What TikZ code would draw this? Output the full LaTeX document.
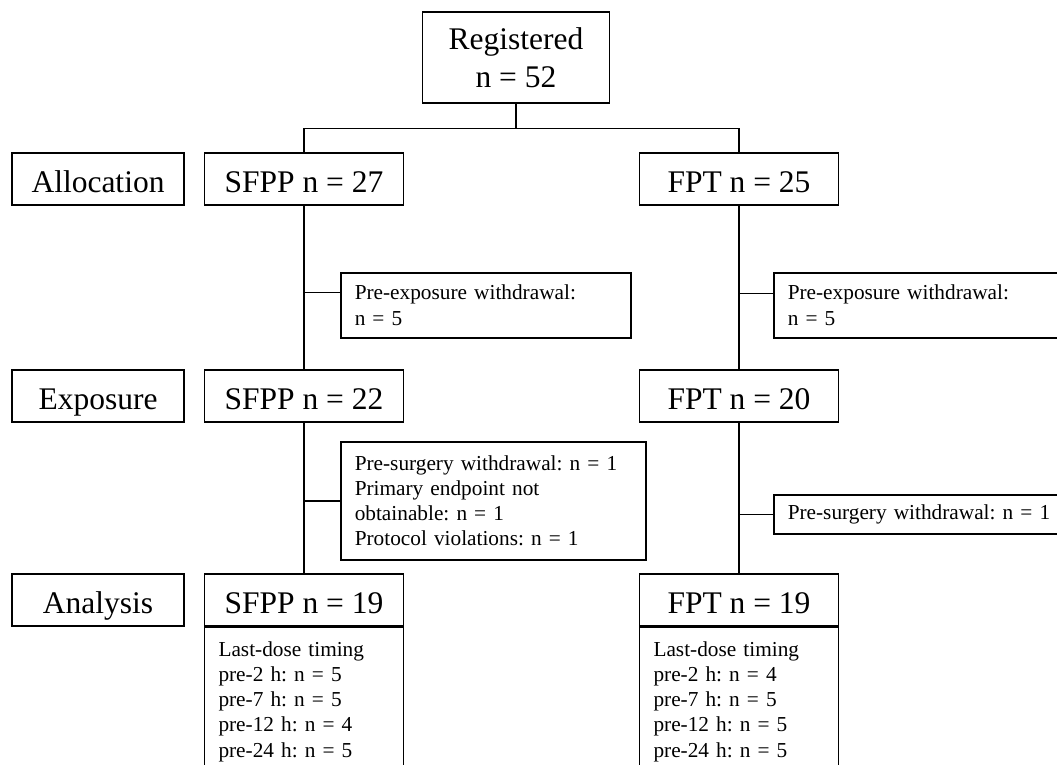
\documentclass[tikz,border=0pt]{standalone}
\usepackage{fontspec}
\setmainfont{Liberation Serif}
\frenchspacing
\newcommand{\bigtxt}{\fontsize{31.5}{38}\selectfont}
\newcommand{\smalltxt}{\fontsize{21.3}{25.2}\selectfont}

\begin{document}
\begin{tikzpicture}
  [x=1pt,y=-1pt,line width=1.5pt,
   every node/.style={draw,line width=1.5pt},
   stage/.style={font=\bigtxt,minimum width=172,minimum height=52,inner sep=2pt,text height=27pt,text depth=0pt},
   arm/.style={font=\bigtxt,minimum width=199,minimum height=52,inner sep=2pt,text height=27pt,text depth=0pt},
   note/.style={font=\smalltxt,anchor=north west,align=left,inner xsep=14pt}]
  \useasboundingbox (0,0) rectangle (1057,765);
  \clip (0,0) rectangle (1057,765);
  \node[font=\bigtxt,align=center,minimum width=187,minimum height=91] (nreg) at (516,57.5) {Registered\\n = 52};
  \node[stage] (nalloc) at (98,179) {Allocation};
  \node[stage] (nexpo) at (98,396) {Exposure};
  \node[stage] (nanaly) at (98,600) {Analysis};
  \node[arm] (nsfpp27) at (304,179) {SFPP n = 27};
  \node[arm] (nsfpp22) at (304,396) {SFPP n = 22};
  \node[arm] (nsfpp19) at (304,600) {SFPP n = 19};
  \node[arm] (nfpt25) at (739,179) {FPT n = 25};
  \node[arm] (nfpt20) at (739,396) {FPT n = 20};
  \node[arm] (nfpt19) at (739,600) {FPT n = 19};
  \node[note,text width=262,minimum height=65] (nwdl1) at (340,272) {Pre-exposure withdrawal:\\n = 5};
  \node[note,text width=272,minimum height=65] (nwdr1) at (773,272) {Pre-exposure withdrawal:\\n = 5};
  \node[note,text width=277,minimum height=118] (nwdl2) at (340,441)
    {Pre-surgery withdrawal: n = 1\\Primary endpoint not\\obtainable: n = 1\\Protocol violations: n = 1};
  \node[note,text width=272,minimum height=39] (nwdr2) at (773,494) {Pre-surgery withdrawal: n = 1};
  \node[note,anchor=north,text width=171,inner ysep=14pt] (ntimel) at (nsfpp19.south)
    {Last-dose timing\\pre-2 h: n = 5\\pre-7 h: n = 5\\pre-12 h: n = 4\\pre-24 h: n = 5};
  \node[note,anchor=north,text width=171,inner ysep=14pt] (ntimer) at (nfpt19.south)
    {Last-dose timing\\pre-2 h: n = 4\\pre-7 h: n = 5\\pre-12 h: n = 5\\pre-24 h: n = 5};
  \draw (nreg.south) -- ++(0,25) coordinate (nsplit);
  \draw (nsfpp27) |- (nsplit) -| (nfpt25);
  \foreach \from/\to in {nsfpp27/nsfpp22,nsfpp22/nsfpp19,nfpt25/nfpt20,nfpt20/nfpt19}
    \draw (\from) -- (\to);
  \foreach \from/\to/\dy in {nwdl1/nsfpp27/13,nwdl2/nsfpp22/0,nwdr1/nfpt25/12,nwdr2/nfpt20/0}
    \draw ([yshift=\dy pt]\from.west) -- ([yshift=\dy pt]\from.west -| \to.south);
\end{tikzpicture}
\end{document}
